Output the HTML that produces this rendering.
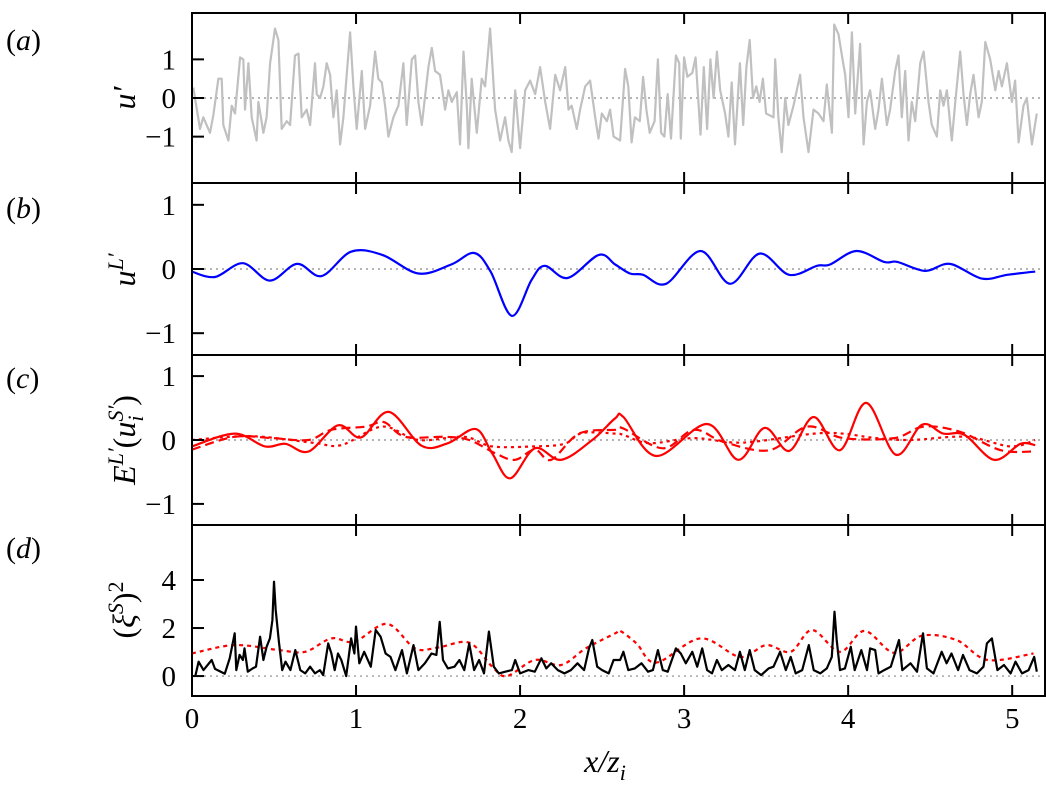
<!DOCTYPE html>
<html><head><meta charset="utf-8"><style>
body{margin:0;background:#fff}
svg{display:block}
svg text{font-family:"Liberation Serif","Times New Roman",serif}
</style></head><body>
<svg id="chart" width="1046" height="796" viewBox="0 0 1046 796" xmlns="http://www.w3.org/2000/svg" font-family="Liberation Serif, serif">
<g id="marks"></g>
<g id="frames" font-family="Liberation Serif, serif"></g>
<g id="labels" font-size="27" fill="#000" font-family="Liberation Serif, serif">
<text x="6" y="50" font-size="30">(<tspan font-style="italic">a</tspan>)</text>
<text x="6" y="218" font-size="30">(<tspan font-style="italic">b</tspan>)</text>
<text x="6" y="388" font-size="30">(<tspan font-style="italic">c</tspan>)</text>
<text x="6" y="558" font-size="30">(<tspan font-style="italic">d</tspan>)</text>
<text transform="translate(135,98) rotate(-90)" text-anchor="middle" font-size="32" font-style="italic">u′</text>
<text transform="translate(135,270) rotate(-90)" text-anchor="middle" font-size="32" font-style="italic">u<tspan font-size="22" dy="-12">L′</tspan></text>
<text transform="translate(135,440) rotate(-90)" text-anchor="middle" font-size="32" font-style="italic">E<tspan font-size="22" dy="-12">L′</tspan><tspan dy="12" font-style="normal">(</tspan>u<tspan font-size="22" dy="8">i</tspan><tspan font-size="22" dx="-6" dy="-20">S′</tspan><tspan dy="12" font-style="normal">)</tspan></text>
<text transform="translate(135,610) rotate(-90)" text-anchor="middle" font-size="32">(<tspan font-style="italic">ξ</tspan><tspan font-size="22" dy="-12" font-style="italic">S</tspan><tspan dy="12">)</tspan><tspan font-size="22" dy="-12">2</tspan></text>
<text x="605" y="772" text-anchor="middle" font-size="32" font-style="italic">x/z<tspan font-size="22" dy="8">i</tspan></text>
</g>
</svg>
<script>
const xTicks=[0,1,2,3,4,5];
const aTicks=[-1,0,1], bTicks=[-1,0,1], cTicks=[-1,0,1], dTicks=[0,2,4];
const aX=[0.008,0.049,0.069,0.110,0.130,0.161,0.181,0.191,0.222,0.242,0.262,0.293,0.313,0.323,0.344,0.364,0.394,0.405,0.435,0.455,0.476,0.506,0.527,0.547,0.577,0.598,0.628,0.649,0.669,0.699,0.720,0.750,0.760,0.781,0.801,0.821,0.842,0.862,0.882,0.903,0.923,0.943,0.964,0.984,1.004,1.035,1.055,1.086,1.116,1.136,1.157,1.177,1.197,1.228,1.258,1.289,1.309,1.340,1.360,1.380,1.401,1.441,1.462,1.482,1.512,1.543,1.563,1.584,1.614,1.634,1.655,1.675,1.685,1.705,1.736,1.766,1.787,1.817,1.848,1.878,1.909,1.929,1.949,1.970,2.000,2.031,2.061,2.092,2.122,2.153,2.183,2.214,2.244,2.275,2.295,2.315,2.346,2.366,2.397,2.427,2.458,2.478,2.498,2.529,2.549,2.57,2.61,2.64,2.66,2.68,2.70,2.73,2.75,2.77,2.79,2.82,2.84,2.86,2.88,2.90,2.92,2.95,2.97,2.98,3.00,3.02,3.05,3.07,3.10,3.12,3.14,3.16,3.18,3.20,3.22,3.25,3.27,3.29,3.31,3.34,3.36,3.38,3.40,3.42,3.44,3.46,3.48,3.50,3.545,3.555,3.575,3.595,3.616,3.636,3.667,3.707,3.728,3.758,3.789,3.819,3.850,3.870,3.901,3.915,3.941,3.962,3.982,4.002,4.023,4.043,4.073,4.094,4.114,4.134,4.165,4.185,4.206,4.236,4.256,4.287,4.307,4.327,4.348,4.368,4.388,4.409,4.439,4.460,4.490,4.510,4.541,4.561,4.581,4.602,4.632,4.653,4.683,4.703,4.724,4.744,4.764,4.795,4.815,4.836,4.866,4.897,4.917,4.937,4.968,4.998,5.018,5.039,5.069,5.089,5.120,5.150];
const aY=[0.27,-0.8,-0.5,-0.9,-0.45,0.5,0.5,-0.7,-1.1,-0.2,-0.4,1.05,1.0,-0.3,0.9,-0.5,-1.1,-0.1,-0.9,-0.5,0.9,1.8,1.5,-0.8,-0.6,-0.7,1.1,1.15,-0.5,-0.3,-0.7,0.9,0.1,0,0.3,0.9,0.6,-0.5,0.2,-1.2,-0.5,0.6,1.7,0.3,-0.8,0.7,-0.8,-0.2,1.2,0.5,0.4,-0.2,-1.0,-0.5,-0.2,0.9,-0.7,1.0,1.1,-0.1,-0.7,0.8,1.3,0.7,0.6,-0.3,0.2,-0.1,0.15,-1.2,1.2,-0.2,-1.3,0.5,-0.9,0.5,0.3,1.8,-0.3,-1.1,-0.5,-1.1,-1.4,0.2,-1.3,0.2,0.45,0.1,0.8,-0.1,-0.8,0.6,0.2,0.8,-0.3,-0.2,-0.8,-0.3,0.3,0.45,-0.5,-1.05,-0.4,-0.6,-0.3,-1.0,-1.1,0.75,0.3,-1.15,-0.5,-0.6,0.55,-0.3,-0.9,-0.6,1.0,-0.9,-1.0,0.1,-1.05,1.1,0.9,-1.05,1.05,0.55,0.65,1.05,-0.95,0.8,-0.8,1.0,0.0,1.2,0.2,-0.4,-1.0,0.4,-1.2,0.9,-0.7,0.8,1.5,0.0,0.3,-0.1,0.5,-0.4,-0.5,1.0,-0.5,-1.4,0.0,-0.7,-0.2,0.6,-0.5,-1.4,-0.3,-0.4,-0.6,0.35,-0.9,1.9,1.65,1.1,0.6,-0.5,1.7,-0.4,1.4,-1.2,-0.1,0.2,-0.8,-0.3,0.5,-0.7,-0.3,0.7,1.1,-0.5,0.7,-1.1,-0.1,-0.6,0.9,1.2,-0.1,-0.7,-1.0,0.2,-0.2,0.2,-1.1,-0.1,1.2,0.1,-0.7,0.1,0.6,-0.5,-0.1,1.45,1.0,0.2,0.7,0.3,0.9,-0.1,0.45,-1.15,-0.2,0.0,-1.2,-0.4];
const bX=[-0.002,0.14,0.31,0.475,0.64,0.79,0.97,1.16,1.38,1.58,1.72,1.82,1.95,2.07,2.15,2.29,2.48,2.58,2.67,2.75,2.89,3.10,3.28,3.46,3.64,3.81,3.89,4.05,4.22,4.30,4.47,4.62,4.815,4.97,5.14];
const bY=[-0.04,-0.125,0.09,-0.18,0.08,-0.11,0.27,0.22,-0.07,0.07,0.25,-0.04,-0.73,-0.17,0.05,-0.14,0.22,0.07,-0.07,-0.09,-0.23,0.28,-0.23,0.24,-0.09,0.05,0.07,0.28,0.11,0.11,-0.03,0.08,-0.15,-0.09,-0.04];
const c1X=[0,0.26,0.445,0.57,0.71,0.89,1.03,1.20,1.40,1.56,1.73,1.83,1.94,2.09,2.25,2.44,2.58,2.63,2.83,3.14,3.33,3.49,3.64,3.79,3.95,4.11,4.29,4.45,4.58,4.71,4.89,5.05,5.14];
const c1Y=[-0.1,0.1,-0.1,-0.06,-0.18,0.23,0.04,0.44,-0.09,-0.05,0.17,-0.21,-0.6,-0.13,-0.31,0,0.34,0.36,-0.25,0.25,-0.31,0.19,-0.17,0.36,-0.16,0.58,-0.23,0.24,0.1,0.08,-0.31,-0.06,-0.08];
const c2X=[0,0.26,0.49,0.71,0.85,1.06,1.17,1.30,1.54,1.69,1.85,1.97,2.09,2.19,2.36,2.58,2.63,2.87,3.06,3.24,3.52,3.75,3.97,4.28,4.46,4.68,4.93,5.13];
const c2Y=[-0.15,0.05,0.03,0,0.16,0.21,0.28,0.05,0.05,0,-0.21,-0.31,-0.15,-0.31,0.1,0.16,0.18,-0.13,0.16,-0.03,-0.16,0.21,0.03,0.03,0.21,0.13,-0.16,-0.18];
const c3X=[0,0.36,0.73,0.91,1.16,1.38,1.66,1.83,2.09,2.27,2.38,2.58,2.63,2.79,3.06,3.36,3.85,4.17,4.38,4.72,4.99,5.14];
const c3Y=[0,0.06,-0.04,-0.08,0.21,0,0.05,-0.1,-0.1,-0.06,0.11,0.1,0.08,-0.05,0.03,-0.04,0.11,0.03,0,0.05,-0.1,0];
const d1X=[0.02,0.04,0.07,0.12,0.14,0.2,0.23,0.26,0.27,0.29,0.31,0.32,0.34,0.37,0.39,0.415,0.435,0.455,0.475,0.49,0.50,0.51,0.53,0.55,0.57,0.60,0.63,0.66,0.69,0.72,0.75,0.78,0.80,0.83,0.85,0.87,0.89,0.91,0.94,0.97,0.99,1.00,1.02,1.05,1.09,1.12,1.15,1.18,1.21,1.24,1.28,1.31,1.35,1.38,1.42,1.46,1.49,1.51,1.53,1.56,1.60,1.63,1.66,1.69,1.72,1.75,1.78,1.81,1.84,1.87,1.91,1.95,1.97,2.00,2.05,2.09,2.13,2.16,2.19,2.23,2.27,2.31,2.35,2.39,2.42,2.44,2.47,2.50,2.54,2.57,2.61,2.63,2.66,2.70,2.74,2.78,2.81,2.84,2.87,2.90,2.95,2.98,3.01,3.05,3.08,3.11,3.14,3.17,3.20,3.23,3.27,3.31,3.34,3.37,3.40,3.43,3.47,3.515,3.545,3.585,3.62,3.65,3.68,3.72,3.76,3.79,3.83,3.87,3.90,3.917,3.93,3.95,3.98,4.016,4.04,4.08,4.115,4.134,4.165,4.185,4.22,4.26,4.31,4.33,4.38,4.42,4.456,4.48,4.52,4.57,4.60,4.63,4.67,4.70,4.74,4.785,4.825,4.846,4.876,4.91,4.95,4.99,5.02,5.06,5.10,5.134,5.15];
const d1Y=[0,0.6,0.25,0.67,0.3,0.1,0.74,1.78,0.25,0.88,0.67,1.15,0.18,0.32,0.39,1.64,0.67,1.22,1.57,2.33,3.93,2.75,1.43,0.25,0.6,0.25,1.08,0.25,0.11,0.39,0.11,0.25,0.04,1.36,0.94,0.25,0.94,0.67,0,1.57,0.94,2.06,0.53,1.01,0.39,1.92,1.64,0.94,0.8,0.25,1.08,0.11,1.29,0.25,0.53,0.94,0.88,2.26,0.67,0.32,0.39,0.67,0.25,1.36,0.25,0.67,0.11,1.85,0.39,0.11,0.18,0.25,0.67,0.11,0.25,0.18,0.74,0.32,0.53,0.25,0.11,0.25,0.53,0.25,1.15,1.5,0.39,0.25,0.11,0.67,0.67,1.01,0.25,0.32,0.53,0.18,0.25,1.08,0.25,0.18,1.15,0.94,0.53,1.01,0.39,1.15,0.25,0.11,0.67,0.25,0.46,0.25,1.01,0.25,1.08,0.25,0.04,0.32,0.39,1.01,0.25,0.8,0.11,0.25,1.29,0.25,0.11,0.32,0.8,2.68,1.5,0.25,0.32,1.22,0.25,1.08,0.25,1.15,1.08,0.11,0.25,0.39,1.5,0.25,0.53,0.18,1.78,0.32,0.11,1.01,0.53,0.94,0.25,0.88,0.25,0.11,0.39,1.36,1.57,0.25,0.46,0.11,0.6,0.11,0.25,0.8,0.18];
const d2X=[0,0.26,0.53,0.69,0.85,0.99,1.19,1.36,1.50,1.69,1.83,1.92,2.09,2.25,2.40,2.58,2.61,2.71,2.83,3.10,3.34,3.50,3.65,3.78,3.95,4.10,4.28,4.45,4.66,4.85,5.13];
const d2Y=[0.94,1.29,1.08,1.01,1.57,1.43,2.17,1.15,1.19,1.39,0.39,0,0.67,0.46,1.15,1.78,1.88,1.36,0.56,1.57,0.8,1.29,1.01,1.92,1.01,1.88,0.97,1.68,1.5,0.67,0.94];

const NS='http://www.w3.org/2000/svg';
const L=192, R=1045, XMAX=5.2;
const xs=v=>L+v*(R-L)/XMAX;
const panels=[
 {id:'a',top:13,bot:183,ymin:-2.2,ymax:2.2,ticks:aTicks},
 {id:'b',top:183,bot:355,ymin:-1.34,ymax:1.34,ticks:bTicks},
 {id:'c',top:355,bot:525,ymin:-1.33,ymax:1.33,ticks:cTicks},
 {id:'d',top:525,bot:696,ymin:-0.83,ymax:6.29,ticks:dTicks}];
const ys=(p,v)=>p.bot-(v-p.ymin)/(p.ymax-p.ymin)*(p.bot-p.top);
const marks=document.getElementById('marks'), frames=document.getElementById('frames');
function mk(tag,attrs,parent){const e=document.createElementNS(NS,tag);for(const k in attrs)e.setAttribute(k,attrs[k]);parent.appendChild(e);return e;}
function linePath(p,X,Y){return X.map((x,i)=>(i?'L':'M')+xs(x).toFixed(1)+' '+ys(p,Y[i]).toFixed(1)).join('');}
function smoothPath(p,X,Y){const P=X.map((x,i)=>[xs(x),ys(p,Y[i])]);let d='M'+P[0][0]+' '+P[0][1];
 for(let i=0;i<P.length-1;i++){const p0=P[Math.max(0,i-1)],p1=P[i],p2=P[i+1],p3=P[Math.min(P.length-1,i+2)];
 d+='C'+(p1[0]+(p2[0]-p0[0])/6).toFixed(1)+' '+(p1[1]+(p2[1]-p0[1])/6).toFixed(1)+' '+(p2[0]-(p3[0]-p1[0])/6).toFixed(1)+' '+(p2[1]-(p3[1]-p1[1])/6).toFixed(1)+' '+p2[0].toFixed(1)+' '+p2[1].toFixed(1);}
 return d;}
panels.forEach(p=>{
 const z=mk('line',{x1:L,x2:R,y1:ys(p,0),y2:ys(p,0),stroke:'#888','stroke-width':1.2,'stroke-dasharray':'2 4'},marks);
 
 
 const f=mk('rect',{x:L,y:p.top,width:R-L,height:p.bot-p.top,fill:'none',stroke:'#000','stroke-width':2},frames);
 
 
 p.ticks.forEach(t=>{const y=ys(p,t);
  const tk=mk('line',{x1:L,x2:L+12,y1:y,y2:y,stroke:'#000','stroke-width':2},frames);
  
  
  const tl=mk('text',{x:176,y:y+10,'text-anchor':'end','font-size':29,'font-family':'Liberation Serif, serif'},frames);
  tl.textContent=t<0?'−'+(-t):String(t);
  
  });
 xTicks.forEach(t=>{const x=xs(t);
  const t1=mk('line',{x1:x,x2:x,y1:p.top,y2:p.top+11,stroke:'#000','stroke-width':2},frames);
  
  
  const t2=mk('line',{x1:x,x2:x,y1:p.bot-11,y2:p.bot,stroke:'#000','stroke-width':2},frames);
  
  });
});
xTicks.forEach(t=>{const tl=mk('text',{x:xs(t),y:728,'text-anchor':'middle','font-size':29,'font-family':'Liberation Serif, serif'},frames);
 tl.textContent=String(t);
 
 });
const P=Object.fromEntries(panels.map(p=>[p.id,p]));
function series(name,d,st){const e=mk('path',Object.assign({d:d,fill:'none','stroke-linejoin':'round'},st),marks);
 
 }
series('series-u-prime',linePath(P.a,aX,aY),{stroke:'#c0c0c0','stroke-width':2.2});
series('series-u-L-prime',smoothPath(P.b,bX,bY),{stroke:'#0000ff','stroke-width':2.2});
series('series-c-dotted',smoothPath(P.c,c3X,c3Y),{stroke:'#ff0000','stroke-width':2.2,'stroke-dasharray':'3 4'});
series('series-c-dashed',smoothPath(P.c,c2X,c2Y),{stroke:'#ff0000','stroke-width':2.2,'stroke-dasharray':'9 5'});
series('series-c-solid',smoothPath(P.c,c1X,c1Y),{stroke:'#ff0000','stroke-width':2.2});
series('series-xi-mean',smoothPath(P.d,d2X,d2Y),{stroke:'#ff0000','stroke-width':2.2,'stroke-dasharray':'4 4'});
series('series-xi-squared',linePath(P.d,d1X,d1Y),{stroke:'#000','stroke-width':2.2});
</script>
</body></html>
